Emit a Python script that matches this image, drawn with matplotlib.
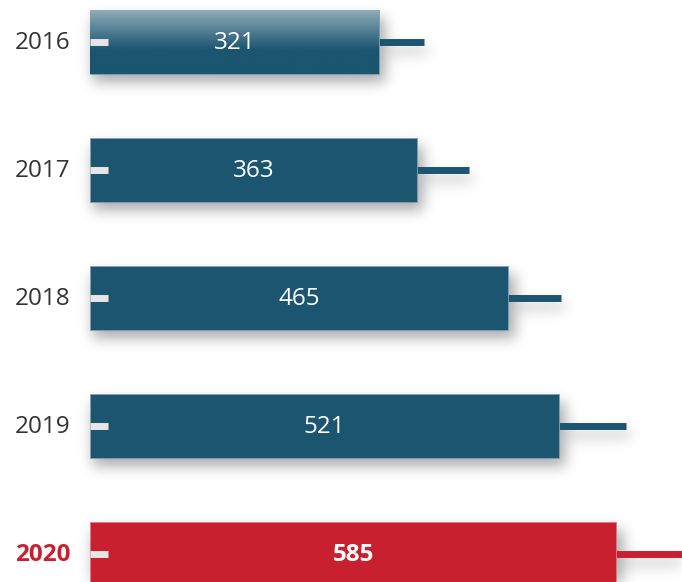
import matplotlib
matplotlib.use('Agg')
import matplotlib.pyplot as plt
import numpy as np
from matplotlib.colors import to_rgb

years = ['2016', '2017', '2018', '2019', '2020']
values = [321, 363, 465, 521, 585]
whisker_ends = [371, 421, 523, 596, 680]
highlight = '2020'

blue = '#1b5570'
red = '#c8202f'

plt.rcParams['font.family'] = ['Open Sans', 'DejaVu Sans']

fig = plt.figure(figsize=(6.82, 5.82), dpi=100)
ax = fig.add_axes([0, 0, 1, 1])
ax.set_xlim(-100, 657.8)
ax.set_ylim(4.219, -0.328)
ax.axis('off')

bar_h = 0.5
ypos = np.arange(len(years))
colors = [red if y == highlight else blue for y in years]

# soft drop shadow, built in pixel space and blurred
W, H = 682, 582
mask = np.zeros((H, W))
for i, v in enumerate(values):
    (px0, py0) = ax.transData.transform((0, i - bar_h / 2))
    (px1, py1) = ax.transData.transform((v, i + bar_h / 2))
    r0, r1 = int(H - py0) + 9, int(H - py1) + 9
    c0, c1 = int(px0) + 4, int(px1) + 7
    mask[max(min(r0, r1), 0):min(max(r0, r1), H), max(c0, 0):min(c1, W)] = 1
    (qx0, qy) = ax.transData.transform((v, i))
    (qx1, _) = ax.transData.transform((whisker_ends[i], i))
    rr = int(H - qy) + 9
    mask[rr - 3:rr + 4, int(qx0):min(int(qx1) + 5, W)] = 0.7
k = np.exp(-0.5 * (np.arange(-21, 22) / 7.0) ** 2)
k /= k.sum()
blur = np.apply_along_axis(lambda r: np.convolve(r, k, mode='same'), 1, mask)
blur = np.apply_along_axis(lambda c: np.convolve(c, k, mode='same'), 0, blur)
shadow = np.zeros((H, W, 4))
shadow[..., 3] = blur * 0.34
xl, yl = ax.get_xlim(), ax.get_ylim()
ax.imshow(shadow, extent=(xl[0], xl[1], yl[0], yl[1]), origin='upper',
          aspect='auto', zorder=1, interpolation='bilinear')

# whiskers to the right
for i, v in enumerate(values):
    ax.plot([v, whisker_ends[i]], [i, i], color=colors[i], lw=5,
            solid_capstyle='butt', zorder=2)

bars = ax.barh(ypos, values, height=bar_h, color=colors, zorder=3,
               edgecolor='#7fa3b5', linewidth=0.6)
bars[-1].set_edgecolor('#e07a83')

# light fade at top of first bar
top = bars[0]
c_bot = np.array(to_rgb(blue))
c_top = np.array(to_rgb('#8fabb8'))
t = np.clip(np.linspace(0, 1, 100) / 0.62, 0, 1)[:, None]
grad = (c_top * (1 - t) + c_bot * t)[:, None, :]
im = ax.imshow(grad, extent=(0, values[0], ypos[0] + bar_h / 2, ypos[0] - bar_h / 2),
               origin='upper', aspect='auto', zorder=3.5)
im.set_clip_path(top)

# small light stubs at the left
for i in ypos:
    ax.plot([0, 20], [i, i], color='#e6e6e6', lw=5, solid_capstyle='butt', zorder=4)

for i, (y, v) in enumerate(zip(years, values)):
    hl = y == highlight
    ax.text(v / 2, i + 0.01, str(v), color='white', fontsize=17.5, ha='center', va='center',
            fontweight='bold' if hl else 'normal', zorder=5)
    ax.text(-22, i + 0.01, y, color=red if hl else '#333333', fontsize=17.5, ha='right',
            va='center', fontweight='bold' if hl else 'normal', zorder=5)

fig.savefig('out.png', dpi=100)
